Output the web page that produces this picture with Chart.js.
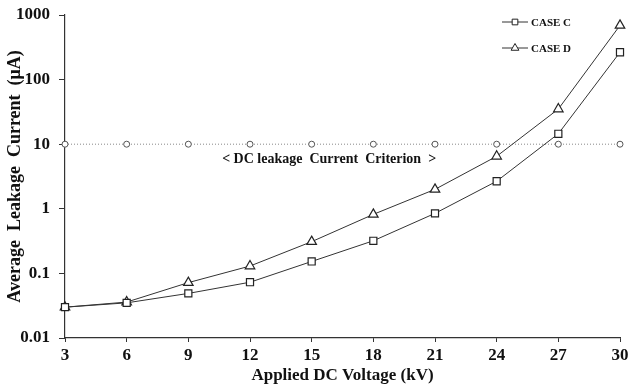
<!DOCTYPE html>
<html>
<head>
<meta charset="utf-8">
<script src="https://cdn.jsdelivr.net/npm/chart.js@4"></script>
<style>
  html, body { margin: 0; padding: 0; background: #fff; }
  #wrap { width: 629px; height: 386px; position: relative; }
</style>
</head>
<body>
<div id="wrap"><canvas id="chart"></canvas></div>
<script>
const voltages = [3, 6, 9, 12, 15, 18, 21, 24, 27, 30];
const caseC = [0.030, 0.035, 0.049, 0.073, 0.153, 0.32, 0.85, 2.67, 14.5, 265];
const caseD = [0.030, 0.036, 0.072, 0.13, 0.31, 0.82, 2.0, 6.5, 35, 690];
const criterion = [10, 10, 10, 10, 10, 10, 10, 10, 10, 10];
const yTicks = [0.01, 0.1, 1, 10, 100, 1000];

const serif = "'Liberation Serif', 'Times New Roman', serif";

// legend + criterion label drawn on top of the chart
const annotate = {
  id: 'annotate',
  afterDraw(chart) {
    const ctx = chart.ctx;
    const x = chart.scales.x, y = chart.scales.y;
    ctx.save();
    ctx.fillStyle = '#111';
    ctx.font = 'bold 14px ' + serif;
    ctx.textAlign = 'center';
    ctx.textBaseline = 'middle';
    ctx.fillText('< DC leakage  Current  Criterion  >', x.getPixelForValue(15.85), y.getPixelForValue(10) + 15);

    const items = [
      { label: 'CASE C', style: 'rect', r: 4 },
      { label: 'CASE D', style: 'triangle', r: 4.5 }
    ];
    ctx.font = 'bold 11px ' + serif;
    ctx.textAlign = 'left';
    items.forEach((it, i) => {
      const ly = 22 + i * 26;
      ctx.strokeStyle = '#333';
      ctx.lineWidth = 1;
      ctx.beginPath();
      ctx.moveTo(502, ly);
      ctx.lineTo(528, ly);
      ctx.stroke();
      ctx.fillStyle = '#fff';
      ctx.strokeStyle = '#222';
      Chart.helpers.drawPoint(ctx, {
        pointStyle: it.style, radius: it.r, borderWidth: 1
      }, 515, ly);
      ctx.fillStyle = '#111';
      ctx.fillText(it.label, 531, ly + 1);
    });
    ctx.restore();
  }
};

new Chart(document.getElementById('chart'), {
  type: 'line',
  data: {
    datasets: [
      {
        label: 'CASE C',
        data: voltages.map((v, i) => ({ x: v, y: caseC[i] })),
        clip: false,
        borderColor: '#333',
        borderWidth: 1,
        pointStyle: 'rect',
        pointRadius: 5,
        pointBackgroundColor: '#fff',
        pointBorderColor: '#222',
        pointBorderWidth: 1.2
      },
      {
        label: 'CASE D',
        data: voltages.map((v, i) => ({ x: v, y: caseD[i] })),
        clip: false,
        borderColor: '#333',
        borderWidth: 1,
        pointStyle: 'triangle',
        pointRadius: 5.5,
        pointBackgroundColor: '#fff',
        pointBorderColor: '#222',
        pointBorderWidth: 1.2
      },
      {
        label: 'Criterion',
        data: voltages.map((v, i) => ({ x: v, y: criterion[i] })),
        clip: false,
        borderColor: '#888',
        borderWidth: 1,
        borderDash: [1, 2],
        pointStyle: 'circle',
        pointRadius: 3,
        pointBackgroundColor: '#fff',
        pointBorderColor: '#555',
        pointBorderWidth: 1
      }
    ]
  },
  options: {
    responsive: true,
    maintainAspectRatio: false,
    animation: false,
    layout: { padding: { top: 15, right: 0, left: 0, bottom: 0 } },
    plugins: {
      legend: { display: false },
      tooltip: { enabled: false }
    },
    scales: {
      x: {
        type: 'linear',
        min: 3,
        max: 30,
        afterFit(scale) {
          scale.paddingRight = 9;
          scale.height = 48;
        },
        grid: { drawOnChartArea: false, drawTicks: true, tickLength: 4, color: '#333' },
        border: { color: '#333', width: 1.2 },
        ticks: {
          stepSize: 3,
          color: '#111',
          padding: 5,
          font: { family: serif, size: 17, weight: 'bold', lineHeight: 1 }
        },
        title: {
          display: true,
          text: 'Applied DC Voltage (kV)',
          color: '#111',
          padding: { top: 1, bottom: 2 },
          font: { family: serif, size: 17, weight: 'bold', lineHeight: 1 }
        }
      },
      y: {
        type: 'logarithmic',
        min: 0.01,
        max: 1000,
        afterBuildTicks(scale) {
          scale.ticks = yTicks.map(v => ({ value: v }));
        },
        afterFit(scale) {
          scale.width = 65;
          scale.paddingTop = 0;
          scale.paddingBottom = 0;
        },
        grid: { drawOnChartArea: false, drawTicks: true, tickLength: 6, color: '#333' },
        border: { color: '#333', width: 1.2 },
        ticks: {
          color: '#111',
          padding: 9,
          font: { family: serif, size: 17, weight: 'bold' },
          callback: v => String(v)
        },
        title: {
          display: true,
          text: 'Average  Leakage  Current  (μA)',
          color: '#111',
          padding: { top: 6, bottom: 0 },
          font: { family: serif, size: 18, weight: 'bold', lineHeight: 1 }
        }
      }
    }
  },
  plugins: [annotate]
});
</script>
</body>
</html>
